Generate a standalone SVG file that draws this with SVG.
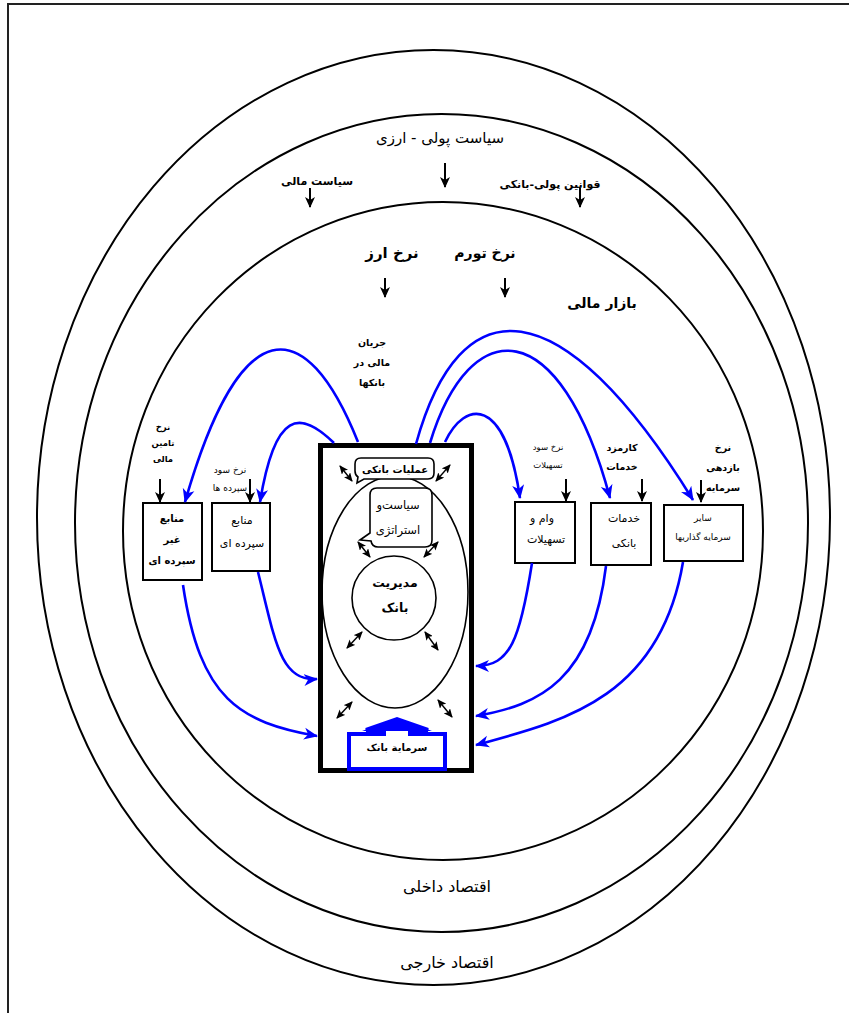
<svg xmlns="http://www.w3.org/2000/svg" width="849" height="1013" viewBox="0 0 849 1013">
<style>
text{font-family:"DejaVu Sans","Noto Sans",sans-serif;text-anchor:middle;fill:#000}
.b{font-weight:bold}
.ring{fill:none;stroke:#000;stroke-width:2}
.box{fill:#fff;stroke:#000;stroke-width:2}
.blue{fill:none;stroke:#0000ff;stroke-width:2.6;marker-end:url(#bh)}
.down{stroke:#000;stroke-width:2;marker-end:url(#kh)}
.dbl{stroke:#000;stroke-width:1.4;marker-start:url(#sh);marker-end:url(#sh)}
</style>
<defs>
<marker id="bh" markerUnits="userSpaceOnUse" markerWidth="16" markerHeight="14" refX="13" refY="6" orient="auto" viewBox="0 0 16 12">
<path d="M0,0 L14,6 L0,12 L4,6 Z" fill="#0000ff"/>
</marker>
<marker id="kh" markerUnits="userSpaceOnUse" markerWidth="12" markerHeight="12" refX="10" refY="5" orient="auto" viewBox="0 0 12 10">
<path d="M0,0 L11,5 L0,10 L3,5 Z" fill="#000"/>
</marker>
<marker id="sh" markerUnits="userSpaceOnUse" markerWidth="9" markerHeight="8" refX="8" refY="4" orient="auto-start-reverse" viewBox="0 0 9 8">
<path d="M0,0 L9,4 L0,8 L2,4 Z" fill="#000"/>
</marker>
</defs>
<rect width="849" height="1013" fill="#fff"/>
<g id="frame"><rect x="8" y="4" width="900" height="1100" fill="none" stroke="#222" stroke-width="2"/></g>

<g id="external-economy">
<ellipse class="ring" cx="433.5" cy="517.5" rx="396.5" ry="467.5"/>
<text x="447" y="968" font-size="16">اقتصاد خارجی</text>
</g>
<g id="domestic-economy">
<ellipse class="ring" cx="441.5" cy="523" rx="366.5" ry="409" stroke-width="3"/>
<text x="447" y="892" font-size="16">اقتصاد داخلی</text>
<text x="440" y="143" font-size="15">سیاست پولی - ارزی</text>
<text class="b" x="317" y="185" font-size="11">سیاست مالی</text>
<text class="b" x="550" y="188" font-size="11">قوانین  پولی-بانکی</text>
<line class="down" x1="445" y1="163" x2="445" y2="187"/>
<line class="down" x1="310" y1="188" x2="310" y2="207"/>
<line class="down" x1="580" y1="188" x2="580" y2="207"/>
</g>
<g id="financial-market">
<ellipse class="ring" cx="443" cy="531" rx="320" ry="329"/>
<text class="b" x="392" y="258" font-size="15">نرخ  ارز</text>
<text class="b" x="485" y="258" font-size="14">نرخ تورم</text>
<text class="b" x="602" y="308" font-size="14">بازار مالی</text>
<line class="down" x1="385" y1="278" x2="385" y2="297"/>
<line class="down" x1="505" y1="278" x2="505" y2="297"/>
<text class="b" x="372" y="346" font-size="9.5">جریان</text>
<text class="b" x="372" y="366" font-size="9.5">مالی در</text>
<text class="b" x="372" y="386" font-size="9.5">بانکها</text>
</g>

<g id="non-deposit-resources">
<text class="b" x="163" y="430" font-size="8.5">نرخ</text>
<text class="b" x="163" y="446" font-size="8.5">تامین</text>
<text class="b" x="163" y="462" font-size="8.5">مالی</text>
<line class="down" x1="160" y1="479" x2="160" y2="502"/>
<rect class="box" x="143" y="503" width="59" height="77"/>
<text class="b" x="172" y="522" font-size="10">منابع</text>
<text class="b" x="172" y="543" font-size="10">غیر</text>
<text class="b" x="172" y="564" font-size="10">سپرده ای</text>
</g>
<g id="deposit-resources">
<text x="230" y="473" font-size="9">نرخ سود</text>
<text x="230" y="491" font-size="9">سپرده ها</text>
<line class="down" x1="250" y1="479" x2="250" y2="502"/>
<rect class="box" x="212" y="503" width="58" height="68"/>
<text x="242" y="524" font-size="11">منابع</text>
<text x="242" y="547" font-size="11">سپرده ای</text>
</g>
<g id="loans">
<text x="548" y="450" font-size="8.5">نرخ سود</text>
<text x="548" y="468" font-size="8.5">تسهیلات</text>
<line class="down" x1="566" y1="479" x2="566" y2="501"/>
<rect class="box" x="515" y="502" width="60" height="61"/>
<text x="542" y="522" font-size="11">وام و</text>
<text x="546" y="543" font-size="11">تسهیلات</text>
</g>
<g id="bank-services">
<text class="b" x="622" y="451" font-size="9.5">کارمزد</text>
<text class="b" x="622" y="470" font-size="9.5">خدمات</text>
<line class="down" x1="642" y1="479" x2="642" y2="501"/>
<rect class="box" x="591" y="503" width="60" height="62"/>
<text x="624" y="522" font-size="11">خدمات</text>
<text x="624" y="547" font-size="11">بانکی</text>
</g>
<g id="other-investments">
<text class="b" x="723" y="451" font-size="9.5">نرخ</text>
<text class="b" x="723" y="471" font-size="9.5">بازدهی</text>
<text class="b" x="723" y="491" font-size="9.5">سرمایه</text>
<line class="down" x1="701" y1="480" x2="701" y2="502"/>
<rect class="box" x="664" y="505" width="79" height="56"/>
<text x="703" y="521" font-size="9">سایر</text>
<text x="703" y="540" font-size="9">سرمایه گذاریها</text>
</g>

<g id="bank">
<rect x="320.5" y="445.5" width="151" height="325" fill="#fff" stroke="#000" stroke-width="5"/>
<ellipse cx="395" cy="592" rx="73" ry="116" fill="none" stroke="#000" stroke-width="1.6"/>
<g id="bank-operations">
<path d="M361,458 H428 Q434,458 434,464 V473 Q434,479 428,479 H364 L357,483 L358,477 Q355,475 355,471 V464 Q355,458 361,458 Z" fill="#fff" stroke="#000" stroke-width="1.6"/>
<text class="b" x="395" y="473" font-size="10">عملیات بانکی</text>
</g>
<g id="policy-strategy">
<path d="M377,488 H425 Q432,488 432,495 V540 Q432,547 425,547 H378 Q372,547 371,541 L360,540 L370,533 V495 Q370,488 377,488 Z" fill="#fff" stroke="#000" stroke-width="1.6"/>
<text x="398" y="509" font-size="11.5">سیاست‌و</text>
<text x="398" y="534" font-size="11.5">استراتژی</text>
</g>
<g id="bank-management">
<circle cx="394" cy="598" r="42" fill="#fff" stroke="#000" stroke-width="1.6"/>
<text class="b" x="395" y="587" font-size="12.5">مدیریت</text>
<text class="b" x="395" y="612" font-size="12.5">بانک</text>
</g>
<g id="bank-capital">
<path d="M349,734 H384 V730 H366 L397,719 L428,730 H410 V734 H445 V769 H349 Z" fill="#fff" stroke="#0000ff" stroke-width="4" stroke-linejoin="miter"/>
<path d="M362,731 L397,718 L432,731 Z" fill="#0000ff"/>
<text class="b" x="397" y="751" font-size="10">سرمایة بانک</text>
</g>
</g>

<g id="connectors">
<line class="dbl" x1="340" y1="466" x2="352" y2="481"/>
<line class="dbl" x1="436" y1="481" x2="450" y2="465"/>
<line class="dbl" x1="358" y1="542" x2="370" y2="557"/>
<line class="dbl" x1="424" y1="557" x2="438" y2="542"/>
<line class="dbl" x1="347" y1="648" x2="362" y2="632"/>
<line class="dbl" x1="425" y1="632" x2="438" y2="650"/>
<line class="dbl" x1="337" y1="718" x2="352" y2="702"/>
<line class="dbl" x1="438" y1="700" x2="452" y2="717"/>
<path class="blue" d="M358,442 C305,310 240,310 185,502"/>
<path class="blue" d="M334,443 C300,410 275,410 260,502"/>
<path class="blue" d="M416,444 C460,285 560,285 693,500"/>
<path class="blue" d="M430,443 C470,312 560,312 610,498"/>
<path class="blue" d="M445,442 C465,400 505,395 520,498"/>
<path class="blue" d="M183,585 C200,700 240,722 317,736"/>
<path class="blue" d="M258,572 C275,640 280,682 317,679"/>
<path class="blue" d="M532,563 C520,640 510,666 476,666"/>
<path class="blue" d="M606,566 C592,680 540,705 476,716"/>
<path class="blue" d="M683,562 C660,700 560,722 476,745"/>
</g>
</svg>
